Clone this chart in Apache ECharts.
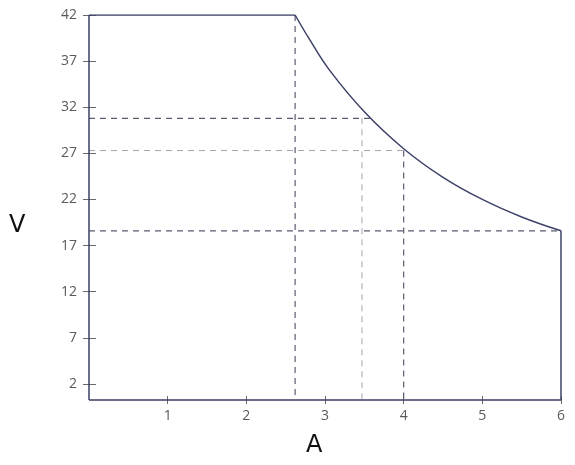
<!DOCTYPE html>
<html><head><meta charset="utf-8">
<script src="https://cdn.jsdelivr.net/npm/echarts@6/dist/echarts.min.js"></script>
<style>html,body{margin:0;padding:0;background:#fff;}#c{width:575px;height:465px;}</style>
</head><body><div id="c"></div>
<script>
// Data
const xTicks = [1, 2, 3, 4, 5, 6];
const yTicks = [2, 7, 12, 17, 22, 27, 32, 37, 42];
const flatTop = [[0, 42], [2.62, 42]];
const curve = [[2.62, 42], [2.8, 39.4], [3.05, 36.1], [3.5, 31.5], [4.0, 27.5], [4.5, 24.4], [5.0, 22.0], [5.5, 20.1], [6.0, 18.6]];
const rightEdge = [[6, 18.6], [6, 0.25]];
const leftEdge = [[0, 42], [0, 0.25]];
const bottomEdge = [[0, 0.25], [6, 0.25]];
const guideDark = [
  [[2.62, 42], [2.62, 0.25]],
  [[0, 30.8], [3.57, 30.8]],
  [[4.0, 27.3], [4.0, 0.25]],
  [[0, 18.6], [6, 18.6]]
];
const guideLight = [
  [[3.47, 30.8], [3.47, 0.25]],
  [[0, 27.3], [4.0, 27.3]]
];

const axisCol = '#3b3f62';
const lineCol = '#3d4268';
const labelCol = '#5a5a5a';
const tickCol = '#6a6a6a';
const font = 'Open Sans';

const series = [];
guideDark.forEach(d => series.push({type: 'line', data: d, symbol: 'none', silent: true,
  lineStyle: {color: '#5a5a70', width: 1.2, type: [6, 5]}, z: 1}));
guideLight.forEach(d => series.push({type: 'line', data: d, symbol: 'none', silent: true,
  lineStyle: {color: '#a8a0b0', width: 1, type: [6, 5]}, z: 1}));
[leftEdge, bottomEdge].forEach(d => series.push({type: 'line', data: d, symbol: 'none', silent: true,
  clip: false, lineStyle: {color: axisCol, width: 1.5}, z: 4}));
series.push({type: 'line', data: flatTop, symbol: 'none', lineStyle: {color: lineCol, width: 1.5}, z: 3});
series.push({type: 'line', data: curve, symbol: 'none', smooth: 0.4, lineStyle: {color: lineCol, width: 1.5}, z: 3});
series.push({type: 'line', data: rightEdge, symbol: 'none', lineStyle: {color: lineCol, width: 1.5}, z: 3});

const chart = echarts.init(document.getElementById('c'), null, {renderer: 'canvas'});
chart.setOption({
  animation: false,
  backgroundColor: '#fff',
  grid: {left: 89, right: 14, top: 15, bottom: 65},
  xAxis: {
    type: 'value', min: 0, max: 6, splitLine: {show: false},
    position: 'bottom', offset: -4,
    axisLine: {show: false, onZero: false},
    axisTick: {show: true, customValues: xTicks, length: 8, lineStyle: {color: tickCol}},
    axisLabel: {customValues: xTicks, color: labelCol, fontFamily: font, fontSize: 14, margin: 13}
  },
  yAxis: {
    type: 'value', min: 0.25, max: 42, splitLine: {show: false},
    position: 'left', offset: -7,
    axisLine: {show: false, onZero: false},
    axisTick: {show: true, customValues: yTicks, length: 13, lineStyle: {color: tickCol}},
    axisLabel: {customValues: yTicks, color: labelCol, fontFamily: font, fontSize: 14, margin: 19}
  },
  graphic: [
    {type: 'text', left: 9, top: 214, style: {text: 'V', fill: '#111', font: '24px "DejaVu Sans"'}},
    {type: 'text', left: 306, top: 434, style: {text: 'A', fill: '#111', font: '24px "DejaVu Sans"'}}
  ],
  series: series
});
</script></body></html>
